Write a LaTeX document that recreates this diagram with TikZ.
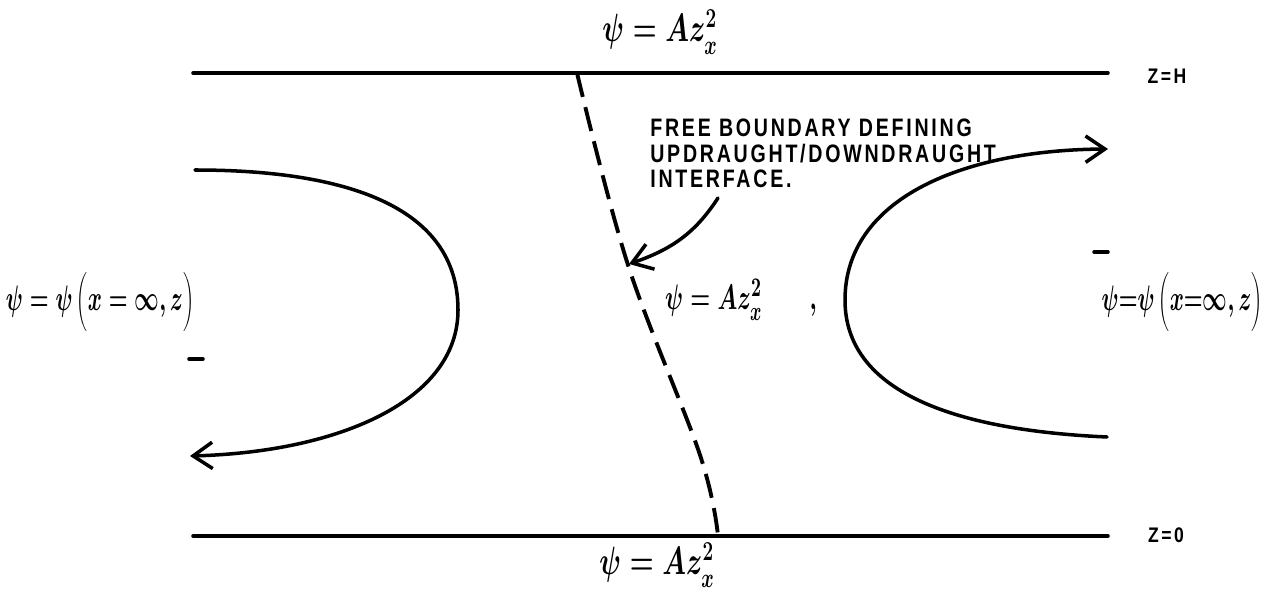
\documentclass[tikz,border=0pt]{standalone}
\usepackage{fontspec}
\usepackage{graphicx}
\newfontfamily\handfont[LetterSpace=14]{Liberation Sans}
\newcommand\handmath[3][1]{\scalebox{#1}[#2]{\boldmath$#3$}}
\newcommand\tallparen[1]{\left(\rule[-8pt]{0pt}{21pt}#1\right)}
\usetikzlibrary{arrows.meta}
\begin{document}
\begin{tikzpicture}[x=0.02cm,y=-0.02cm,
  ink/.style={line width=2pt, line cap=round, line join=round},
  barb/.style={-{Straight Barb[length=11pt,width=15pt]}},
  bigmath/.style={inner sep=0pt, font=\fontsize{16.5}{20}\selectfont},
  midmath/.style={inner sep=0pt, font=\fontsize{15}{18}\selectfont},
  lvl/.style={inner sep=0pt, font=\handfont\bfseries\fontsize{10}{12}\selectfont},
  annot/.style={inner sep=0pt, align=left, anchor=north west,
    font=\handfont\bfseries\fontsize{11.5}{14.5}\selectfont},
  dashbound/.style={line width=2.2pt, dash pattern=on 14pt off 6pt, line cap=butt}]
\useasboundingbox (0,0) rectangle (1267,594);

% horizontal boundaries
\coordinate (tl) at (193,73);
\coordinate (tr) at (1108,73);
\coordinate (bl) at (193,536);
\coordinate (br) at (1108,536);
\draw[ink] (tl) -- (tr);
\draw[ink] (bl) -- (br);
\node[lvl] (zH) at (1167,76) {\scalebox{1}[1.2]{Z=H}};
\node[lvl] (z0) at (1166,535) {\scalebox{1}[1.2]{Z=0}};

% boundary labels
\node[bigmath] (topl) at (660,32) {\handmath[0.9]{1.3}{\psi = A z^{2}_{x}}};
\node[bigmath] (botl) at (657,565) {\handmath[0.9]{1.3}{\psi = A z^{2}_{x}}};
\node[midmath] (leftl) at (100,302) {\handmath[0.85]{1.4}{\psi = \psi\tallparen{x = \infty, z}}};
\node[midmath] (rightl) at (1182,302) {\handmath[0.85]{1.4}{\psi{=}\psi\tallparen{x{=}\infty, z}}};
\node[midmath] (cen) at (741,300) {\handmath[0.9]{1.4}{\psi = A z^{2}_{x}\qquad ,}};

% free boundary (dashed)
\coordinate (fb0) at (577,73);
\coordinate (fb1) at (628,265);
\coordinate (fb2) at (700,455);
\coordinate (fb3) at (718,536);
\draw[dashbound] plot[smooth, tension=0.6] coordinates {(fb0) (fb1) (fb2) (fb3)};

% annotation
\node[annot] (ann) at (650,119) {\scalebox{0.97}[1.25]{FREE BOUNDARY DEFINING}\\\scalebox{0.97}[1.25]{UPDRAUGHT/DOWNDRAUGHT}\\\scalebox{0.97}[1.25]{INTERFACE.}};
\coordinate (annstart) at (718,198);
\coordinate (anntip) at (629,264);
\draw[ink, barb] (annstart) to[out=237, in=19] (anntip);

% left circulation
\coordinate (lstart) at (195,170);
\coordinate (lmid) at (458,310);
\coordinate (lend) at (190,456);
\draw[ink, barb] (lstart) .. controls (320,170) and (458,195) .. (lmid)
  .. controls (458,400) and (340,452) .. (lend);

% right circulation
\coordinate (rstart) at (1107,437);
\coordinate (rmid) at (845,300);
\coordinate (rend) at (1108,149);
\draw[ink, barb] (rstart) .. controls (950,430) and (845,390) .. (rmid)
  .. controls (845,200) and (960,150) .. (rend);

% small minus marks
\coordinate (m1a) at (189,359);
\coordinate (m1b) at (203,359);
\coordinate (m2a) at (1094,252);
\coordinate (m2b) at (1108,252);
\draw[ink] (m1a) -- (m1b);
\draw[ink] (m2a) -- (m2b);
\end{tikzpicture}
\end{document}
